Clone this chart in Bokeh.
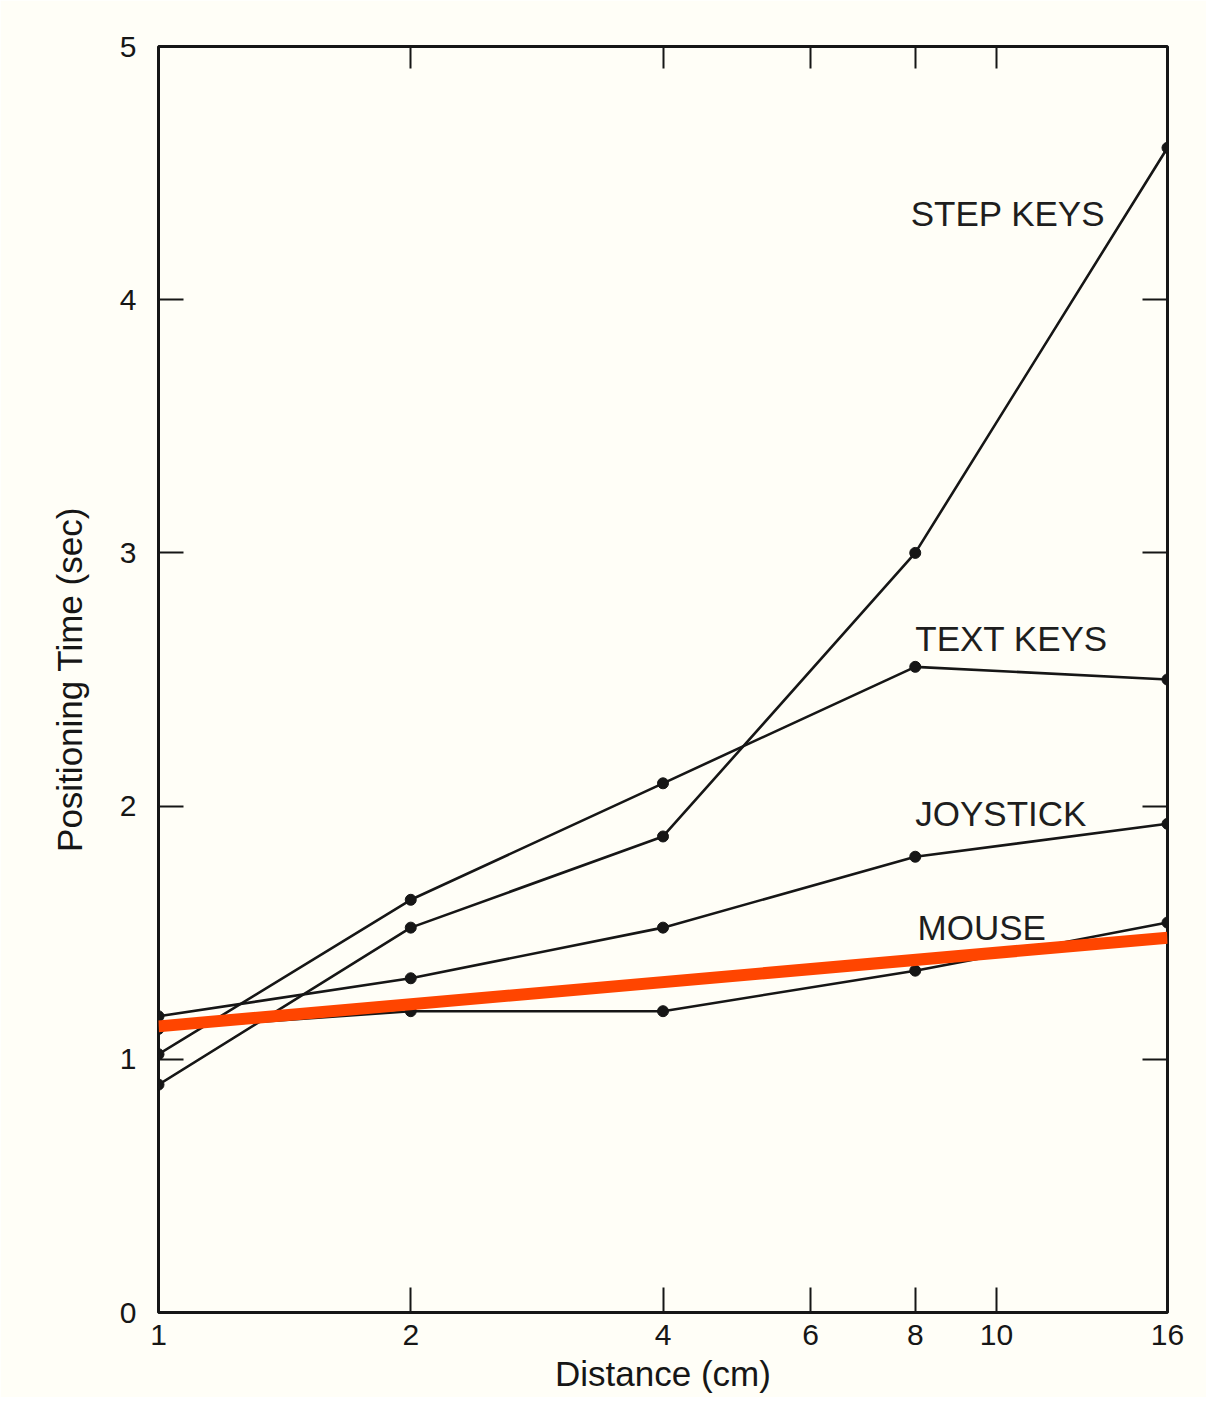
from bokeh.plotting import figure
from bokeh.models import (FixedTicker, LinearAxis, LogAxis, CustomJSTickFormatter,
                          Range1d)
from bokeh.core.properties import value
from bokeh.embed import file_html
from bokeh.resources import INLINE

# ---- data ----
distance = [1, 2, 4, 8, 16]
step_keys = [0.90, 1.52, 1.88, 3.00, 4.60]
text_keys = [1.02, 1.63, 2.09, 2.55, 2.50]
joystick = [1.17, 1.32, 1.52, 1.80, 1.93]
mouse = [1.12, 1.19, 1.19, 1.35, 1.54]

fit_x = [1, 16]
fit_y = [1.13, 1.48]

series_names = ["STEP KEYS", "TEXT KEYS", "JOYSTICK", "MOUSE"]
label_x = [7.9, 8.0, 8.0, 8.05]
label_y = [4.34, 2.66, 1.97, 1.52]

x_ticks = [1, 2, 4, 6, 8, 10, 16]
y_ticks = [0, 1, 2, 3, 4, 5]
top_ticks = [2, 4, 6, 8, 10]
right_ticks = [1, 2, 3, 4]

INK = "#161616"
PAPER = "#FFFEF7"
FONT = "Liberation Sans"

W, H = 1206, 1397
p = figure(width=W, height=H, x_axis_type="log",
           x_range=Range1d(1, 16), y_range=Range1d(0, 5),
           output_backend="svg", toolbar_location=None,
           min_border_left=158, min_border_right=39,
           min_border_top=46, min_border_bottom=85)

p.background_fill_color = PAPER
p.border_fill_color = PAPER
p.outline_line_color = INK
p.outline_line_width = 3
p.xgrid.visible = False
p.ygrid.visible = False

def style_axis(ax, tick_len=25):
    ax.axis_line_color = None
    ax.major_tick_in = tick_len
    ax.major_tick_out = 0
    ax.major_tick_line_color = INK
    ax.major_tick_line_width = 2
    ax.minor_tick_line_color = None
    ax.major_label_text_font = FONT
    ax.major_label_text_font_size = "30px"
    ax.major_label_text_color = INK
    ax.axis_label_text_font = FONT
    ax.axis_label_text_font_style = "normal"
    ax.axis_label_text_color = INK

xa = p.xaxis[0]
xa.ticker = FixedTicker(ticks=x_ticks)
xa.formatter = CustomJSTickFormatter(code="return tick.toString();")
style_axis(xa)
xa.major_label_standoff = 12
xa.axis_label = "Distance (cm)"
xa.axis_label_text_font_size = "35px"
xa.axis_label_standoff = 6

ya = p.yaxis[0]
ya.ticker = FixedTicker(ticks=y_ticks)
style_axis(ya)
ya.major_label_standoff = 22
ya.axis_label = "Positioning Time (sec)"
ya.axis_label_text_font_size = "35px"
ya.axis_label_standoff = 28

blank = CustomJSTickFormatter(code="return '';")

top = LogAxis(ticker=FixedTicker(ticks=top_ticks), formatter=blank)
style_axis(top, 22)
top.major_label_standoff = 0
p.add_layout(top, "above")

right = LinearAxis(ticker=FixedTicker(ticks=right_ticks), formatter=blank)
style_axis(right, 25)
right.major_label_standoff = 0
p.add_layout(right, "right")

for ys in [step_keys, text_keys, joystick, mouse]:
    p.line(distance, ys, line_color=INK, line_width=2.6)
    p.scatter(distance, ys, size=11, color=INK)

p.text(x=label_x, y=label_y, text=series_names,
       text_font=value(FONT), text_font_size="35px",
       text_align="left", text_baseline="middle", text_color="#1e1e1e")

p.line(fit_x, fit_y, line_color="#FF4500", line_width=12)

open("out.html", "w").write(file_html(p, INLINE))
